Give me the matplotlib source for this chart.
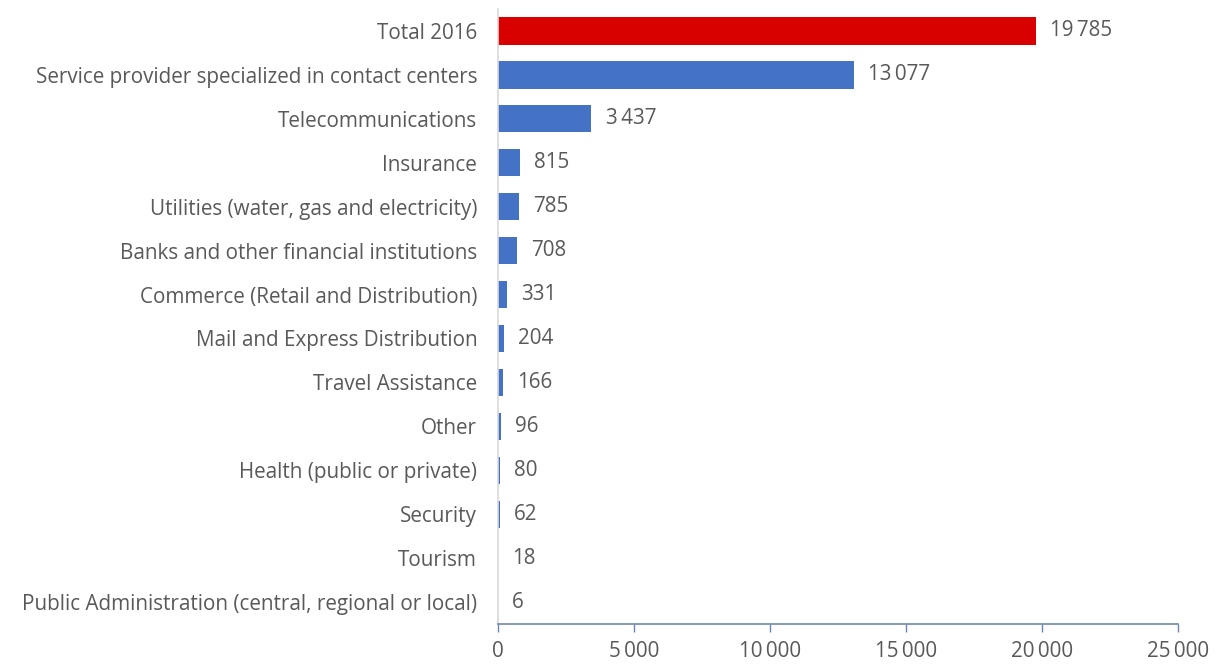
import matplotlib
matplotlib.use("Agg")
import matplotlib.pyplot as plt
from matplotlib.ticker import FuncFormatter

categories = [
    "Total 2016",
    "Service provider specialized in contact centers",
    "Telecommunications",
    "Insurance",
    "Utilities (water, gas and electricity)",
    "Banks and other financial institutions",
    "Commerce (Retail and Distribution)",
    "Mail and Express Distribution",
    "Travel Assistance",
    "Other",
    "Health (public or private)",
    "Security",
    "Tourism",
    "Public Administration (central, regional or local)",
]
values = [19785, 13077, 3437, 815, 785, 708, 331, 204, 166, 96, 80, 62, 18, 6]
x_ticks = [0, 5000, 10000, 15000, 20000, 25000]

plt.rcParams["font.family"] = ["Open Sans", "DejaVu Sans"]
text_color = "#595959"
fsize = 14.9


def fmt(v):
    return f"{int(v):,}".replace(",", "\u2009")


fig = plt.figure(figsize=(12.23, 6.69), dpi=100)
ax = fig.add_axes([0.4072, 0.0673, 0.5560, 0.9192])

colors = ["#d90000"] + ["#4472c4"] * (len(values) - 1)
ypos = list(range(len(values)))
ax.barh(ypos, values, height=0.62, color=colors, zorder=2)

for y, v in zip(ypos, values):
    ax.text(v + 520, y, fmt(v), va="center", ha="left",
            fontsize=fsize, color=text_color)

ax.set_ylim(len(values) - 0.5, -0.5)
ax.set_xlim(0, 25000)
ax.set_yticks(ypos)
ax.set_yticklabels(categories, fontsize=fsize, color=text_color)
ax.set_xticks(x_ticks)
ax.xaxis.set_major_formatter(FuncFormatter(lambda v, p: fmt(v)))
ax.tick_params(axis="x", labelsize=fsize, labelcolor=text_color,
               color="#6d86b0", length=6, width=1, direction="out", pad=6)
ax.tick_params(axis="y", length=0, pad=15)

for s in ["top", "right"]:
    ax.spines[s].set_visible(False)
ax.spines["left"].set_color("#d9d9d9")
ax.spines["left"].set_linewidth(1.2)
ax.spines["bottom"].set_color("#6d86b0")
ax.spines["bottom"].set_linewidth(1.2)

fig.savefig("out.png", dpi=100, facecolor="white")
